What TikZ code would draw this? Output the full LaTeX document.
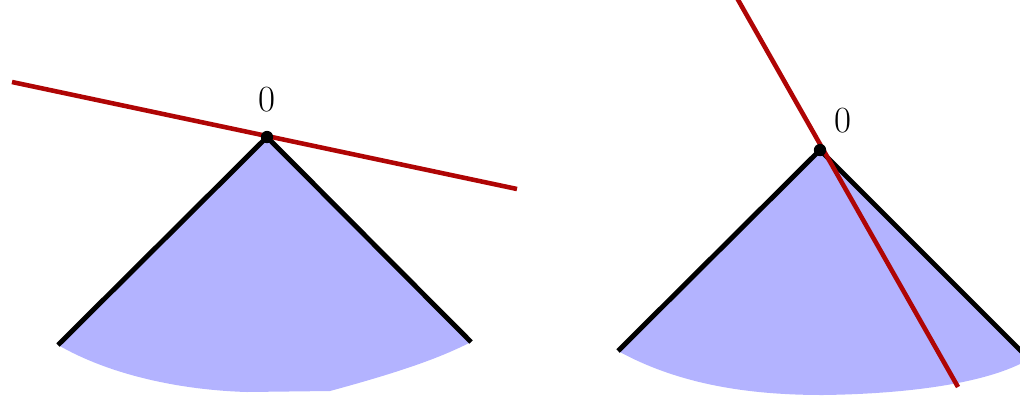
\documentclass[tikz,border=0pt]{standalone}
\usetikzlibrary{positioning}
\usepackage{xcolor}
\definecolor{conefill}{RGB}{179, 179, 255}
\definecolor{linered}{RGB}{175, 5, 5}

\begin{document}
\begin{tikzpicture}[
    x=0.02cm, y=-0.02cm,
    edge/.style={line width=2.8pt, black},
    redline/.style={line width=2.6pt, linered},
    apexdot/.style={circle, fill=black, inner sep=0pt, minimum size=7pt},
    zerolabel/.style={font=\fontsize{21}{24}\selectfont, inner sep=1pt},
]
    \useasboundingbox (0,0) rectangle (1020,396);

    % Left cone
    \coordinate (la) at (267,137);
    \coordinate (ll) at (58,345);
    \coordinate (lr) at (471,342);
    \fill[conefill] (la) -- (ll)
      .. controls (110,375) and (180,390) .. (247,392)
      -- (330,391) .. controls (400,372) and (440,358) .. (lr) -- cycle;
    \draw[edge] (ll) -- (la) -- (lr);
    \coordinate (lp) at (12,82);
    \coordinate (lq) at (517,189);
    \draw[redline] (lp) -- (lq);
    \node[apexdot] (ldot) at (la) {};
    \node[zerolabel] (lzero) at (267,100) {0};

    % Right cone
    \coordinate (ra) at (820,150);
    \coordinate (rl) at (618,351);
    \coordinate (rr) at (1024,354);
    \fill[conefill] (ra) -- (rl)
      .. controls (680,385) and (750,395) .. (823,395)
      .. controls (900,394) and (980,385) .. (1024,362) -- (rr) -- cycle;
    \draw[edge] (rl) -- (ra) -- (rr);
    \coordinate (rp) at (737,-2);
    \coordinate (rq) at (958,387);
    \draw[redline] (rp) -- (rq);
    \node[apexdot] (rdot) at (ra) {};
    \node[zerolabel] (rzero) at (843,121) {0};
\end{tikzpicture}
\end{document}
